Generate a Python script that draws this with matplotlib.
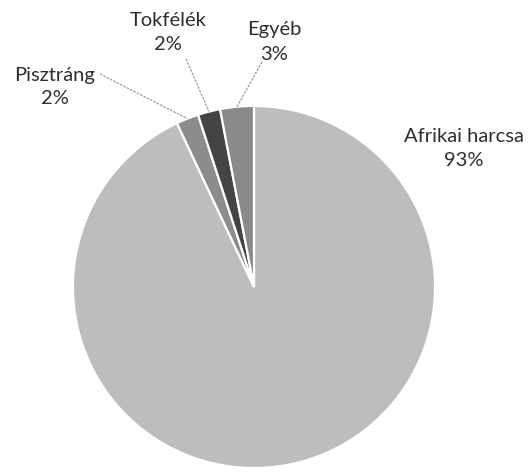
import matplotlib.pyplot as plt
import numpy as np

plt.rcParams["font.family"] = ["Lato", "DejaVu Sans"]

labels = ["Afrikai harcsa", "Pisztráng", "Tokfélék", "Egyéb"]
shares = [93, 2, 2, 3]
pct_text = ["93%", "2%", "2%", "3%"]
colors = ["#bdbdbd", "#8c8c8c", "#444444", "#8a8a8a"]
explode = [0, 0.066, 0.066, 0.066]

# label anchor positions in pixel space (x, y from top)
label_pos = [(464, 149), (55, 87), (168, 33), (274, 42)]
# leader line start points (pixel space)
leader_start = [None, (100, 74), (186, 59), (262, 62)]

W, H = 530, 472
fig = plt.figure(figsize=(W / 100, H / 100), dpi=100)
ax = fig.add_axes([0, 0, 1, 1])

cx, cy, R = 254, H - 287, 181
wedges, _ = ax.pie(shares, colors=colors, explode=explode, startangle=90,
                   counterclock=False, center=(cx, cy), radius=R,
                   wedgeprops=dict(edgecolor="white", linewidth=1.6))

# pie() resets the limits, so set them afterwards
ax.set_xlim(0, W)
ax.set_ylim(0, H)
ax.set_aspect("equal")
ax.axis("off")

for i, (w, lab, pct) in enumerate(zip(wedges, labels, pct_text)):
    tx, ty = label_pos[i]
    ax.text(tx, H - ty, f"{lab}\n{pct}", ha="center", va="center",
            fontsize=14.5, color="#2e2e2e", linespacing=1.5)
    if leader_start[i] is not None:
        mid = np.deg2rad((w.theta1 + w.theta2) / 2)
        wx, wy = w.center
        ex, ey = wx + w.r * np.cos(mid), wy + w.r * np.sin(mid)
        sx, sy = leader_start[i]
        ax.plot([sx, ex], [H - sy, ey], color="#999999", linewidth=0.9,
                linestyle=(0, (2, 1)))

fig.savefig("out.png", dpi=100, facecolor="white")
